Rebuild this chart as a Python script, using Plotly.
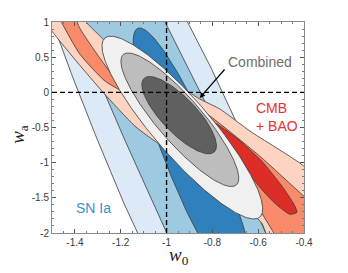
import numpy as np
import plotly.graph_objects as go

# ---------------- data ----------------
X_TICKS = [-1.4, -1.2, -1.0, -0.8, -0.6, -0.4]
X_TICK_TEXT = ["-1.4", "-1.2", "-1", "-0.8", "-0.6", "-0.4"]
Y_TICKS = [-2, -1.5, -1, -0.5, 0, 0.5, 1]
Y_TICK_TEXT = ["-2", "-1.5", "-1", "-0.5", "0", "0.5", "1"]

# SN Ia contours (3, 2, 1 sigma) as sheared ellipses: centre, half width in w0,
# half height in wa, shear dw0/dwa of the conjugate diameter
SN_W0C = [-0.866, -0.846, -0.877]
SN_WAC = [-1.548, -1.548, -1.054]
SN_HALF_W = [0.324, 0.2166, 0.1200]
SN_HALF_H = [6.41, 7.0, 1.97]
SN_SHEAR = [-0.1316, -0.1393, -0.1221]

# Combined contours (3, 2, 1 sigma)
CO_W0C = [-0.931, -0.942, -0.945]
CO_WAC = [-0.501, -0.390, -0.325]
CO_HALF_W = [0.160, 0.125, 0.100]
CO_HALF_H = [1.30, 0.95, 0.55]
CO_SHEAR = [-0.2402, -0.2367, -0.234]

# CMB + BAO contours (outline vertices, w0 / wa)
CMB3_W0 = [-1.553, -1.501, -1.387, -1.278, -1.138, -1.038, -0.855, -0.680, -0.584, -0.566,
           -0.527, -0.243, -0.243, -0.400, -0.636, -0.767, -0.863, -0.920, -0.985, -1.117,
           -1.278, -1.291, -1.348, -1.379]
CMB3_WA = [1.130, 0.873, 0.417, 0.004, -0.480, -0.722, -1.093, -1.564, -1.862, -2.004,
           -2.261, -2.546, -1.564, -1.050, -0.551, -0.238, -0.081, 0.047, 0.189, 0.446,
           0.759, 0.802, 0.987, 1.158]
CMB2_W0 = [-1.488, -1.457, -1.379, -1.269, -1.182, -1.029, -0.855, -0.680, -0.614, -0.584,
           -0.531, -0.483, -0.243, -0.243, -0.400, -0.593, -0.754, -0.855, -0.985, -1.117,
           -1.178, -1.217, -1.304, -1.389, -1.379]
CMB2_WA = [1.186, 0.987, 0.546, 0.161, -0.010, -0.380, -0.836, -1.335, -1.564, -1.719,
           -2.004, -2.261, -2.403, -1.905, -1.477, -0.907, -0.480, -0.238, -0.124, -0.053,
           0.019, 0.161, 0.546, 0.987, 1.186]
CMB1_W0 = [-0.789, -0.689, -0.584, -0.496, -0.444, -0.431, -0.462, -0.527, -0.593, -0.654,
           -0.697, -0.758]
CMB1_WA = [-0.437, -0.665, -0.979, -1.335, -1.591, -1.705, -1.734, -1.577, -1.349, -1.078,
           -0.836, -0.622]

SN_COLORS = ["#dce9f6", "#9ecae1", "#3080bd"]
CMB_COLORS = ["#fdd4c2", "#f98b6b", "#dc2d27"]
CO_COLORS = ["#f0f0f0", "#bdbdbd", "#606060"]
EDGE = "#3a3a3a"


def sheared_ellipse(w0c, wac, hw, hh, shear, n=721):
    t = np.linspace(0, 2 * np.pi, n)
    wa = wac + hh * np.sin(t)
    w0 = w0c + shear * (wa - wac) + hw * np.cos(t)
    return w0, wa


fig = go.Figure()


def add_shape_trace(x, y, color, spline=False):
    x = list(x) + [x[0]]
    y = list(y) + [y[0]]
    fig.add_trace(go.Scatter(
        x=x, y=y, mode="lines", fill="toself", fillcolor=color,
        line=dict(color=EDGE, width=0.8, shape="spline" if spline else "linear",
                  smoothing=0.6),
        hoverinfo="skip", showlegend=False))


for i in range(3):
    x, y = sheared_ellipse(SN_W0C[i], SN_WAC[i], SN_HALF_W[i], SN_HALF_H[i], SN_SHEAR[i])
    add_shape_trace(x, y, SN_COLORS[i])

for xs, ys, c in [(CMB3_W0, CMB3_WA, CMB_COLORS[0]),
                  (CMB2_W0, CMB2_WA, CMB_COLORS[1]),
                  (CMB1_W0, CMB1_WA, CMB_COLORS[2])]:
    add_shape_trace(xs, ys, c, spline=True)

for i in range(3):
    x, y = sheared_ellipse(CO_W0C[i], CO_WAC[i], CO_HALF_W[i], CO_HALF_H[i], CO_SHEAR[i])
    add_shape_trace(x, y, CO_COLORS[i])

# reference lines w0 = -1, wa = 0
fig.add_shape(type="line", x0=-1, x1=-1, y0=-2, y1=1, xref="x", yref="y",
              line=dict(color="black", width=1.4, dash="5px,3px"))
fig.add_shape(type="line", x0=-1.5, x1=-0.4, y0=0, y1=0, xref="x", yref="y",
              line=dict(color="black", width=1.4, dash="5px,3px"))

TXT_FONT = "Arial, Liberation Sans, sans-serif"
fig.add_annotation(x=-0.590, y=0.432, text="Combined", showarrow=False,
                   font=dict(family=TXT_FONT, size=14, color="#6e6e6e"))
fig.add_annotation(x=-0.855, y=-0.081, ax=-0.741, ay=0.346, axref="x", ayref="y",
                   text="", showarrow=True, arrowhead=2, arrowsize=0.9,
                   arrowwidth=1.2, arrowcolor="black")
fig.add_annotation(x=-0.619, y=-0.353, text="CMB<br>+ BAO", showarrow=False,
                   xanchor="left", align="left",
                   font=dict(family=TXT_FONT, size=14, color="#e8302c"))
fig.add_annotation(x=-1.320, y=-1.648, text="SN Ia", showarrow=False,
                   font=dict(family=TXT_FONT, size=14, color="#3b8fd0"))

# axis titles
TITLE_FONT = dict(family="Liberation Serif, serif", size=19, color="#222")
fig.add_annotation(xref="paper", yref="paper", x=0.505, y=-0.108, text="<i>w</i><sub>0</sub>",
                   showarrow=False, font=TITLE_FONT, yanchor="middle")
fig.add_annotation(xref="paper", yref="paper", x=-0.131, y=0.47, text="<i>w</i><sub>a</sub>",
                   showarrow=False, font=TITLE_FONT, textangle=-90, xanchor="center")

axis_common = dict(showline=True, linecolor="#8a8a8a", linewidth=1, mirror="ticks",
                   ticks="inside", ticklen=4, tickcolor="#555", tickwidth=1,
                   showgrid=False, zeroline=False, automargin=False,
                   tickfont=dict(family=TXT_FONT, size=10, color="#3a3a3a"))

fig.update_xaxes(range=[-1.5, -0.4], tickvals=X_TICKS, ticktext=X_TICK_TEXT,
                 minor=dict(ticks="inside", ticklen=2, dtick=0.05, tick0=-1.5,
                            tickcolor="#777", showgrid=False),
                 **axis_common)
fig.update_yaxes(range=[-2, 1], tickvals=Y_TICKS, ticktext=Y_TICK_TEXT,
                 minor=dict(ticks="inside", ticklen=2, dtick=0.1, tick0=-2,
                            tickcolor="#777", showgrid=False),
                 **axis_common)

fig.update_layout(width=348, height=273, margin=dict(l=52, r=44, t=22, b=40),
                  plot_bgcolor="white", paper_bgcolor="white", showlegend=False)

fig.write_html("out.html", config={"displayModeBar": False},
               post_script="document.body.style.margin='0';"
                           "document.body.style.overflow='hidden';")
